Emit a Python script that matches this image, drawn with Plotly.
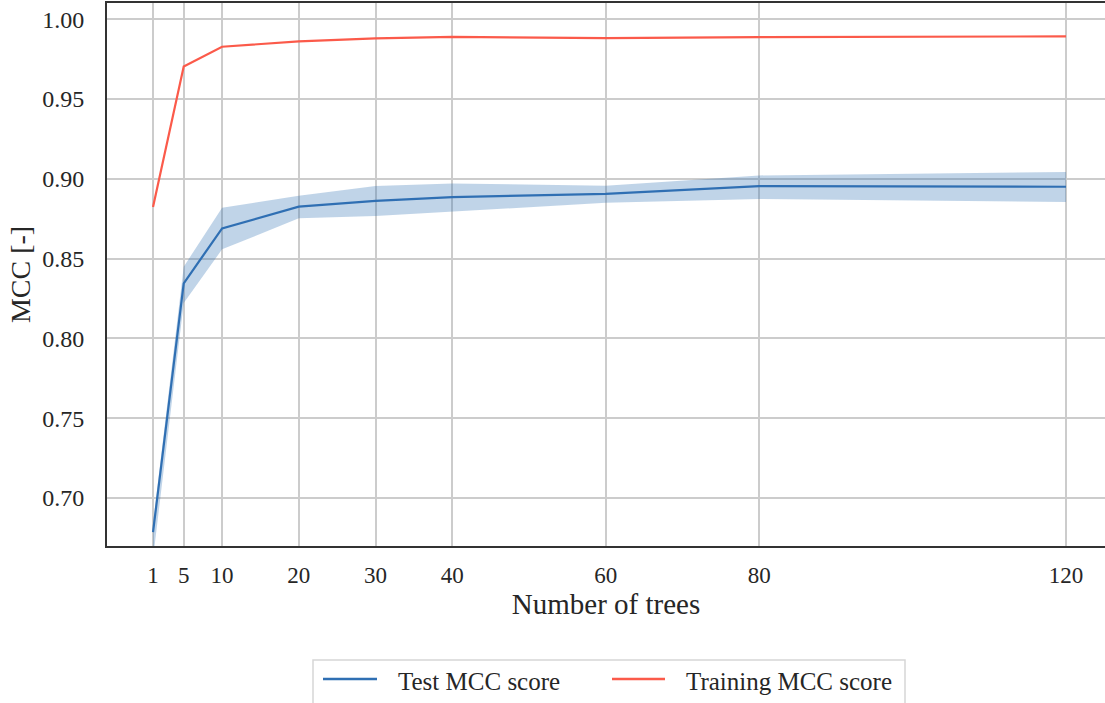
import plotly.graph_objects as go

trees = [1, 5, 10, 20, 30, 40, 60, 80, 120]
test_mean = [0.6787, 0.8345, 0.8689, 0.8825, 0.8862, 0.8885, 0.8905, 0.8954, 0.8950]
test_upper = [0.6840, 0.8449, 0.8818, 0.8893, 0.8954, 0.8971, 0.8956, 0.9021, 0.9042]
test_lower = [0.6620, 0.8221, 0.8558, 0.8752, 0.8766, 0.8793, 0.8849, 0.8873, 0.8854]
train_mean = [0.8823, 0.9703, 0.9827, 0.9861, 0.9880, 0.9889, 0.9881, 0.9887, 0.9892]
x_ticks = [1, 5, 10, 20, 30, 40, 60, 80, 120]
y_ticks = [0.70, 0.75, 0.80, 0.85, 0.90, 0.95, 1.00]
legend_labels = ["Test MCC score", "Training MCC score"]

BLUE = "#2f6fb3"
RED = "#fb5a4a"
TXT = "#262626"
FONT = "Liberation Serif"

# plot area geometry (pixels)
W, H = 1105, 703
L, R, T, B = 107, 0, 3, 157
PW, PH = W - L - R, H - T - B


def px(xp):
    return (xp - L) / PW


def py(yp):
    return (H - B - yp) / PH


fig = go.Figure()
fig.add_trace(go.Scatter(x=trees, y=test_lower, mode="lines", line=dict(width=0, color=BLUE),
                         showlegend=False, hoverinfo="skip"))
fig.add_trace(go.Scatter(x=trees, y=test_upper, mode="lines", line=dict(width=0, color=BLUE),
                         fill="tonexty", fillcolor="rgba(47,111,179,0.3)",
                         showlegend=False, hoverinfo="skip"))
fig.add_trace(go.Scatter(x=trees, y=test_mean, mode="lines", name=legend_labels[0],
                         line=dict(color=BLUE, width=2.2), showlegend=False))
fig.add_trace(go.Scatter(x=trees, y=train_mean, mode="lines", name=legend_labels[1],
                         line=dict(color=RED, width=2.2), showlegend=False))

# custom legend (box, line samples, labels)
shapes = [
    dict(type="rect", xref="paper", yref="paper", x0=px(313), x1=px(905), y0=py(660), y1=py(725),
         line=dict(color="#d6d6d6", width=1.5), fillcolor="white", layer="above"),
    dict(type="line", xref="paper", yref="paper", x0=px(323), x1=px(377), y0=py(679), y1=py(679),
         line=dict(color=BLUE, width=2.5)),
    dict(type="line", xref="paper", yref="paper", x0=px(612), x1=px(665), y0=py(679), y1=py(679),
         line=dict(color=RED, width=2.5)),
]
annotations = [
    dict(text=legend_labels[0], xref="paper", yref="paper", x=px(396), y=py(681),
         xanchor="left", yanchor="middle", showarrow=False,
         font=dict(family=FONT, size=25, color=TXT)),
    dict(text=legend_labels[1], xref="paper", yref="paper", x=px(684), y=py(681),
         xanchor="left", yanchor="middle", showarrow=False,
         font=dict(family=FONT, size=25, color=TXT)),
]

fig.update_layout(
    width=W, height=H,
    margin=dict(l=L, r=R, t=T, b=B),
    paper_bgcolor="white", plot_bgcolor="white",
    font=dict(family=FONT, color=TXT, size=24),
    showlegend=False,
    shapes=shapes, annotations=annotations,
)
fig.update_xaxes(
    range=[-5, 125.08], tickmode="array", tickvals=x_ticks, ticktext=[str(t) for t in x_ticks],
    showgrid=True, gridcolor="#cccccc", gridwidth=1.5, zeroline=False,
    showline=True, linecolor="#333333", linewidth=2, mirror=True,
    ticks="", ticklabelstandoff=7,
    tickfont=dict(family=FONT, size=23, color=TXT),
    title=dict(text="Number of trees", font=dict(family=FONT, size=29, color=TXT), standoff=5),
)
fig.update_yaxes(
    range=[0.66995, 1.0101], tickmode="array", tickvals=y_ticks, ticktext=[f"{v:.2f}" for v in y_ticks],
    showgrid=True, gridcolor="#cccccc", gridwidth=1.5, zeroline=False,
    showline=True, linecolor="#333333", linewidth=2, mirror=False,
    ticks="", ticklabelstandoff=16,
    tickfont=dict(family=FONT, size=24, color=TXT),
    title=dict(text="MCC [-]", font=dict(family=FONT, size=28, color=TXT), standoff=3),
)

fig.write_html("out.html")
